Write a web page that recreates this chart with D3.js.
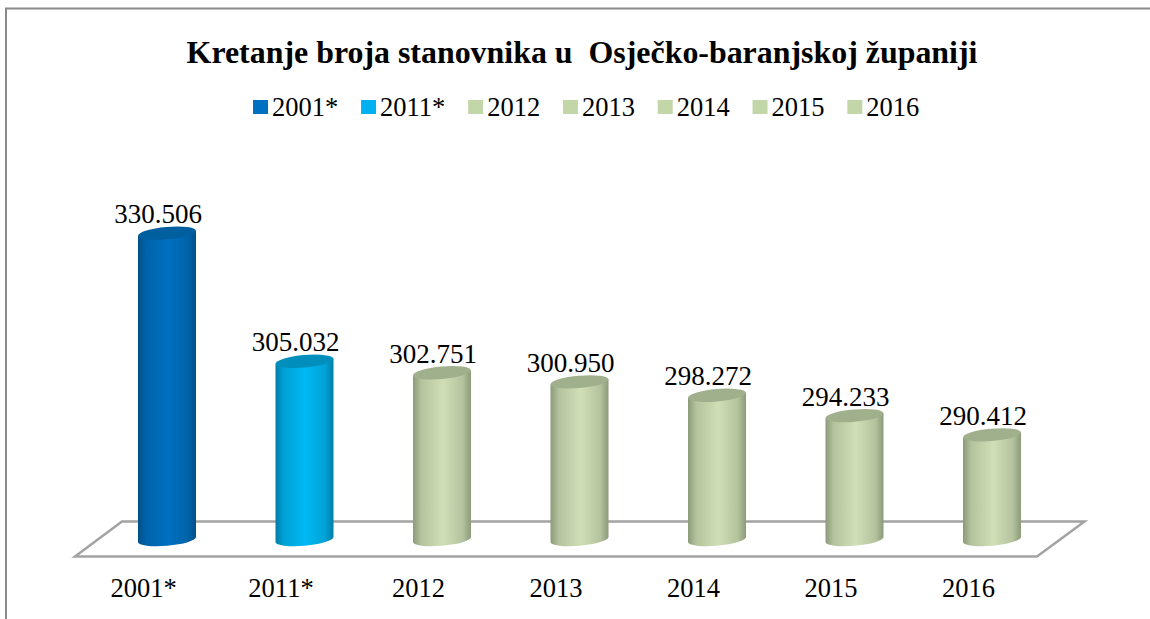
<!DOCTYPE html>
<html>
<head>
<meta charset="utf-8">
<script src="https://cdn.jsdelivr.net/npm/d3@7/dist/d3.min.js"></script>
<style>
  html, body { margin: 0; padding: 0; background: #fff; overflow: hidden; }
  text { font-family: "Liberation Serif", serif; fill: #000; }
</style>
</head>
<body>
<div id="chart"></div>
<script>
// chart values
var years = ["2001*", "2011*", "2012", "2013", "2014", "2015", "2016"];
var population = [330506, 305032, 302751, 300950, 298272, 294233, 290412];
var populationLabels = ["330.506", "305.032", "302.751", "300.950", "298.272", "294.233", "290.412"];
var chartTitle = "Kretanje broja stanovnika u\u00a0 Osječko-baranjskoj županiji";

// colours of each year: edge, centre, lid, legend
var edgeColors = ["#004f88", "#007ca6", "#8b9a78", "#8b9a78", "#8b9a78", "#8b9a78", "#8b9a78"];
var midColors = ["#0070c0", "#00b9f5", "#d0dfb6", "#d0dfb6", "#d0dfb6", "#d0dfb6", "#d0dfb6"];
var lidColors = ["#005f9f", "#008fbd", "#a1b08c", "#a1b08c", "#a1b08c", "#a1b08c", "#a1b08c"];
var swatchColors = ["#0070c0", "#00b0f0", "#c3d6a8", "#c3d6a8", "#c3d6a8", "#c3d6a8", "#c3d6a8"];

var svg = d3.select("#chart")
    .append("svg")
    .attr("width", 1150)
    .attr("height", 619)
    .style("display", "block");

var x = d3.scalePoint().domain(years).range([167, 992]);
var y = d3.scaleLinear().domain([270000, 340000]).range([537.5, 185.4]);

var rx = 29, ry = 6.2, tilt = 2.5, floorY = 539.5;

// frame of the chart, it runs off the right and bottom of the picture
svg.append("path")
    .attr("d", "M6,620V8.5H1151")
    .attr("fill", "none")
    .attr("stroke", "#8a8a8a")
    .attr("stroke-width", 2);

svg.append("text")
    .attr("x", 582)
    .attr("y", 63)
    .attr("text-anchor", "middle")
    .style("font-size", "31.9px")
    .style("font-weight", "bold")
    .text(chartTitle);

// legend, items placed one after the other
var legendX = 253;
years.forEach(function (d, i) {
    svg.append("rect")
        .attr("x", legendX)
        .attr("y", 100)
        .attr("width", 15)
        .attr("height", 14)
        .attr("fill", swatchColors[i]);
    var t = svg.append("text")
        .attr("x", legendX + 19)
        .attr("y", 116)
        .style("font-size", "26.5px")
        .text(d);
    legendX += 19 + t.node().getComputedTextLength() + 22.8;
});

// floor
svg.append("path")
    .attr("d", "M75,556.5H1037L1084.5,521.5H122Z")
    .attr("fill", "#fff")
    .attr("stroke", "#a3a3a3")
    .attr("stroke-width", 2.5);

// gradients of the cylinders
var defs = svg.append("defs");
years.forEach(function (d, i) {
    var g = defs.append("linearGradient").attr("id", "cyl" + i);
    g.append("stop").attr("offset", "0%").attr("stop-color", edgeColors[i]);
    g.append("stop").attr("offset", "14%").attr("stop-color", d3.interpolateRgb(edgeColors[i], midColors[i])(0.6));
    g.append("stop").attr("offset", "52%").attr("stop-color", midColors[i]);
    g.append("stop").attr("offset", "86%").attr("stop-color", d3.interpolateRgb(edgeColors[i], midColors[i])(0.6));
    g.append("stop").attr("offset", "100%").attr("stop-color", edgeColors[i]);
});

function body(d, i) {
    var cx = x(d), top = y(population[i]);
    return "M" + (cx - rx) + "," + (top + tilt) +
        "L" + (cx + rx) + "," + (top - tilt) +
        "L" + (cx + rx) + "," + (floorY - tilt) +
        "A" + rx + "," + ry + " -5 0 1 " + (cx - rx) + "," + (floorY + tilt) + "Z";
}

var bars = svg.append("g")
    .selectAll("g")
    .data(years)
    .enter()
    .append("g");

bars.append("path")
    .attr("d", body)
    .attr("fill", function (d, i) { return "url(#cyl" + i + ")"; });

bars.append("ellipse")
    .attr("rx", rx)
    .attr("ry", ry)
    .attr("fill", function (d, i) { return lidColors[i]; })
    .attr("transform", function (d, i) {
        return "translate(" + x(d) + "," + y(population[i]) + ") rotate(-5)";
    });

// value labels
svg.append("g")
    .selectAll("text")
    .data(years)
    .enter()
    .append("text")
    .attr("x", function (d) { return x(d) - 9; })
    .attr("y", function (d, i) { return y(population[i]) - 10; })
    .attr("text-anchor", "middle")
    .style("font-size", "27px")
    .text(function (d, i) { return populationLabels[i]; });

// category axis, sits under the front edge of the floor
var xAxis = svg.append("g")
    .attr("transform", "translate(-24,573)")
    .call(d3.axisBottom(x).tickSize(0).tickPadding(0));
xAxis.select(".domain").remove();
xAxis.selectAll("text")
    .attr("y", 0)
    .attr("dy", "24px")
    .style("font-size", "26.5px");
</script>
</body>
</html>
